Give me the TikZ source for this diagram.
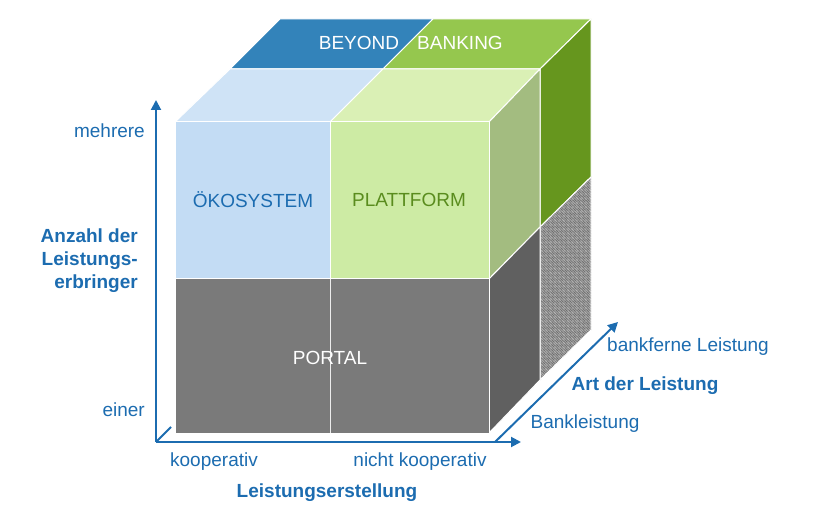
\documentclass[tikz,border=0pt]{standalone}
\usepackage{fontspec}
\setmainfont{Liberation Sans}
\usetikzlibrary{arrows.meta,patterns}
\pgfdeclarepatternformonly{finehatch}{\pgfqpoint{-1pt}{-1pt}}{\pgfqpoint{4pt}{4pt}}{\pgfqpoint{2.6pt}{2.6pt}}{%
  \pgfsetlinewidth{0.9pt}%
  \pgfpathmoveto{\pgfqpoint{-0.5pt}{3.1pt}}%
  \pgfpathlineto{\pgfqpoint{3.1pt}{-0.5pt}}%
  \pgfusepath{stroke}%
}
\pgfdeclarepatternformonly{finehatchb}{\pgfqpoint{-1pt}{-1pt}}{\pgfqpoint{4pt}{4pt}}{\pgfqpoint{2.6pt}{2.6pt}}{%
  \pgfsetlinewidth{0.4pt}%
  \pgfpathmoveto{\pgfqpoint{-0.5pt}{-0.5pt}}%
  \pgfpathlineto{\pgfqpoint{3.1pt}{3.1pt}}%
  \pgfusepath{stroke}%
}
\definecolor{axblue}{HTML}{1C6CB0}
\definecolor{okoF}{HTML}{C3DCF4}
\definecolor{okoT}{HTML}{CFE3F6}
\definecolor{plaF}{HTML}{CDEBA4}
\definecolor{plaT}{HTML}{DAF0B5}
\definecolor{plaS}{HTML}{A3BC80}
\definecolor{portF}{HTML}{7A7A7A}
\definecolor{portS}{HTML}{606060}
\definecolor{bbBlue}{HTML}{3383BA}
\definecolor{bbGreen}{HTML}{95C74E}
\definecolor{bbDark}{HTML}{66961E}
\definecolor{txtGreen}{HTML}{5A8C1E}
\definecolor{hatchBg}{HTML}{C4C4C4}
\definecolor{hatchFg}{HTML}{6E6E6E}
\tikzset{
  face/.style={draw=white, line width=1bp, line join=round},
  axis/.style={draw=axblue, line width=2bp, -{Triangle[length=10bp,width=10bp]}},
  lbl/.style={text=axblue, font=\fontsize{19bp}{23bp}\selectfont, inner sep=0pt},
  bold lbl/.style={lbl, font=\fontsize{19bp}{23bp}\selectfont\bfseries},
  facetxt/.style={font=\fontsize{19bp}{23bp}\selectfont, inner sep=0pt}
}
\begin{document}
\begin{tikzpicture}[x=1bp,y=-1bp]
\useasboundingbox (0,0) rectangle (825,521);
% back layer top
\filldraw[face, fill=bbBlue] (230,69) -- (383,69) -- (433,19) -- (280,19) -- cycle;
\filldraw[face, fill=bbGreen] (383,69) -- (540,69) -- (591,19) -- (433,19) -- cycle;
% back layer right side
\filldraw[face, fill=bbDark] (540,69) -- (591,19) -- (591,177) -- (540,227) -- cycle;
\fill[fill=hatchBg] (540,227) -- (591,177) -- (591,330) -- (540,380) -- cycle;
\fill[pattern=finehatch, pattern color=hatchFg] (540,227) -- (591,177) -- (591,330) -- (540,380) -- cycle;
\fill[pattern=finehatchb, pattern color=hatchFg!70] (540,227) -- (591,177) -- (591,330) -- (540,380) -- cycle;
\draw[face] (540,227) -- (591,177) -- (591,330) -- (540,380) -- cycle;
% front layer top
\filldraw[face, fill=okoT] (175,122) -- (330,122) -- (383,69) -- (230,69) -- cycle;
\filldraw[face, fill=plaT] (330,122) -- (489,122) -- (540,69) -- (383,69) -- cycle;
% front layer right side
\filldraw[face, fill=plaS] (489,122) -- (540,69) -- (540,227) -- (489,279) -- cycle;
\filldraw[face, fill=portS] (489,279) -- (540,227) -- (540,380) -- (489,433) -- cycle;
% front faces
\filldraw[face, fill=okoF] (175,122) rectangle (330,279);
\filldraw[face, fill=plaF] (330,122) rectangle (489,279);
\filldraw[face, fill=portF] (175,279) rectangle (489,433);
\draw[draw=white!85!gray, line width=1bp] (330,279) -- (330,433);
% face texts
\node[facetxt, text=white] (beyond) at (359,43) {BEYOND};
\node[facetxt, text=white] (banking) at (460,43) {BANKING};
\node[facetxt, text=axblue] (oko) at (253,200) {ÖKOSYSTEM};
\node[facetxt, text=txtGreen] (pla) at (409,200) {PLATTFORM};
\node[facetxt, text=white] (portal) at (330,358) {PORTAL};
% axes
\coordinate (o) at (156,442);
\coordinate (ytop) at (156,100);
\coordinate (xend) at (521,442);
\coordinate (stub) at (171,427);
\coordinate (dstart) at (495,442);
\coordinate (dend) at (618,322);
\draw[axis] (o) -- (ytop);
\draw[axis] (o) -- (xend);
\draw[draw=axblue, line width=2bp] (o) -- (stub);
\draw[axis] (dstart) -- (dend);
% axis labels
\node[lbl, anchor=east] (mehrere) at (145,131) {mehrere};
\node[lbl, anchor=east] (einer) at (145,410) {einer};
\node[bold lbl, anchor=east, align=right] (anzahl) at (138,261) {Anzahl der\\Leistungs-\\erbringer};
\node[lbl] (koop) at (214,462) {kooperativ};
\node[lbl] (nkoop) at (420,462) {nicht kooperativ};
\node[bold lbl] (lerst) at (327,493) {Leistungserstellung};
\node[lbl] (bankfern) at (688,347) {bankferne Leistung};
\node[bold lbl] (art) at (645,386) {Art der Leistung};
\node[lbl] (bankl) at (585,424) {Bankleistung};
\end{tikzpicture}
\end{document}
